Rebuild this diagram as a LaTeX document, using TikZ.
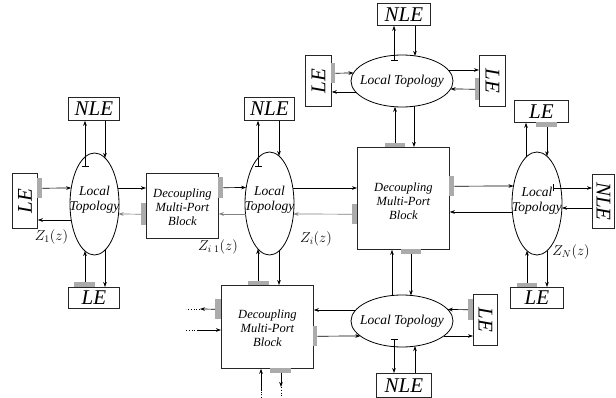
\documentclass[tikz,border=0pt]{standalone}
\usepackage{fontspec}
\setmainfont{Liberation Serif}
\usetikzlibrary{shapes.geometric,arrows.meta}
\tikzset{
  box/.style={draw=black!85, line width=0.8pt, inner sep=0pt, anchor=north west},
  tab/.style={fill=black!33, draw=none, inner sep=0pt, anchor=north west},
  ell/.style={ellipse, draw=black, line width=0.8pt, inner sep=0pt},
  arr/.style={-{Stealth[length=5pt,width=3.6pt]}, line width=0.7pt},
  garr/.style={arr, draw=black!50},
  tarr/.style={{Bar[width=7pt]}-{Stealth[length=5pt,width=3.6pt]}, line width=0.7pt},
  dots/.style={line width=0.7pt, dash pattern=on 0.8pt off 2pt},
  big/.style={font=\fontsize{21}{21}\selectfont\itshape, inner sep=0pt},
  sm/.style={font=\fontsize{12.5}{14}\selectfont\itshape, align=center, inner sep=0pt},
  lt/.style={font=\fontsize{13.5}{15}\selectfont\itshape, align=center, inner sep=0pt},
  zl/.style={font=\fontsize{14}{14}\selectfont, inner sep=0pt}
}
\begin{document}
\begin{tikzpicture}[x=1pt,y=-1pt]
\useasboundingbox[fill=white] (0,0) rectangle (616,398);

% ellipses
\node[ell, minimum width=49pt, minimum height=102pt] (E1) at (94.5,204) {};
\node[ell, minimum width=49pt, minimum height=103pt] (E2) at (269.5,203.5) {};
\node[ell, minimum width=50pt, minimum height=103pt] (E3) at (537,203.5) {};
\node[ell, minimum width=102pt, minimum height=52pt] (ET) at (402,81) {};
\node[ell, minimum width=102pt, minimum height=52pt] (EB) at (402,321) {};
\node[lt] (E1t) at (94.5,200) {Local\\Topology};
\node[lt] (E2t) at (269.5,200) {Local\\Topology};
\node[lt] (E3t) at (537,201) {Local\\Topology};
\node[lt] (ETt) at (402,81) {Local Topology};
\node[lt] (EBt) at (402,321) {Local Topology};

% boxes
\node[box, minimum width=25pt, minimum height=55pt] (LEL) at (12,173) {};
\node[box, minimum width=51pt, minimum height=23pt] (NLE1) at (68,97) {};
\node[box, minimum width=51pt, minimum height=21pt] (LEB1) at (68,287) {};
\node[box, minimum width=72pt, minimum height=65pt] (D1) at (146,173) {};
\node[box, minimum width=50pt, minimum height=23pt] (NLE2) at (244,97) {};
\node[box, minimum width=92pt, minimum height=102pt] (DBIG) at (357,147) {};
\node[box, minimum width=92pt, minimum height=83pt] (DB) at (221,285) {};
\node[box, minimum width=53pt, minimum height=22pt] (NLET) at (377,3) {};
\node[box, minimum width=26pt, minimum height=51pt] (LETL) at (305,55) {};
\node[box, minimum width=26pt, minimum height=51pt] (LETR) at (479,55) {};
\node[box, minimum width=24pt, minimum height=51pt] (LEBR) at (473,294) {};
\node[box, minimum width=55pt, minimum height=24pt] (NLEB) at (376,373) {};
\node[box, minimum width=54pt, minimum height=22pt] (LERT) at (514,100) {};
\node[box, minimum width=22pt, minimum height=54pt] (NLER) at (592,174) {};
\node[box, minimum width=53pt, minimum height=21pt] (LERB) at (510,287) {};

% box texts
\node[big, rotate=90] (LELt) at (LEL) {LE};
\node[big] (NLE1t) at (NLE1) {NLE};
\node[big] (LEB1t) at (LEB1) {LE};
\node[sm] (D1t) at ([yshift=-1pt]D1.center) {Decoupling\\Multi-Port\\Block};
\node[big] (NLE2t) at (NLE2) {NLE};
\node[sm] (DBIGt) at ([yshift=-3pt]DBIG.center) {Decoupling\\Multi-Port\\Block};
\node[sm] (DBt) at ([yshift=-1.5pt]DB.center) {Decoupling\\Multi-Port\\Block};
\node[big] (NLETt) at (NLET) {NLE};
\node[big, rotate=90] (LETLt) at (LETL) {LE};
\node[big, rotate=-90] (LETRt) at (LETR) {LE};
\node[big, rotate=-90] (LEBRt) at (LEBR) {LE};
\node[big] (NLEBt) at (NLEB) {NLE};
\node[big] (LERTt) at (LERT) {LE};
\node[big, rotate=-90] (NLERt) at (NLER) {NLE};
\node[big] (LERBt) at (LERB) {LE};

% tabs
\node[tab, minimum width=5pt, minimum height=20pt] (tLEL) at (37,178) {};
\node[tab, minimum width=21pt, minimum height=5pt] (tLEB1) at (74,282) {};
\node[tab, minimum width=5pt, minimum height=21pt] (tD1r) at (218,177) {};
\node[tab, minimum width=5pt, minimum height=22pt] (tD1l) at (141,203) {};
\node[tab, minimum width=20pt, minimum height=4pt] (tDBt) at (385,143) {};
\node[tab, minimum width=5pt, minimum height=20pt] (tDBl) at (352,204) {};
\node[tab, minimum width=5pt, minimum height=20pt] (tDBr) at (449,176) {};
\node[tab, minimum width=20pt, minimum height=5pt] (tDBb) at (401,249) {};
\node[tab, minimum width=4pt, minimum height=20pt] (tLETL) at (331,63) {};
\node[tab, minimum width=4pt, minimum height=22pt] (tLETR) at (475,78) {};
\node[tab, minimum width=21pt, minimum height=4pt] (tDt) at (248,281) {};
\node[tab, minimum width=6pt, minimum height=20pt] (tDl) at (215,299) {};
\node[tab, minimum width=4pt, minimum height=20pt] (tDr) at (313,326) {};
\node[tab, minimum width=21pt, minimum height=5pt] (tDb) at (270,368) {};
\node[tab, minimum width=5pt, minimum height=21pt] (tLEBR) at (468,299) {};
\node[tab, minimum width=21pt, minimum height=5pt] (tLERT) at (536,122) {};
\node[tab, minimum width=20pt, minimum height=4pt] (tLERB) at (517,283) {};

% E1 connectors
\draw[arr] (tLEL.east) -- (71.2,188);
\draw[arr] (71.2,220) -- (LEL.east |- 0,220);
\draw[tarr] (85,167) -- (NLE1.south -| 85,0);
\draw[arr] (NLE1.south -| 105,0) -- (105,158);
\draw[arr] (tLEB1.north -| 85,0) -- (85,251);
\draw[arr] (105,250) -- (LEB1.north -| 105,0);
\draw[arr] (117.8,188) -- (D1.west |- 0,188);
\draw[garr] (tD1l.west) -- (118.5,214);

% E2 connectors
\draw[arr] (tD1r.east) -- (246.1,187.5);
\draw[garr] (245.5,214) -- (D1.east |- 0,214);
\draw[tarr] (258,167) -- (NLE2.south -| 258,0);
\draw[arr] (NLE2.south -| 279,0) -- (279,156);
\draw[arr] (292.9,188) -- (DBIG.west |- 0,188);
\draw[garr] (tDBl.west) -- (293.5,214);
\draw[arr] (tDt.north -| 258,0) -- (258,249);
\draw[arr] (279,251) -- (DB.north -| 279,0);

% ET connectors
\draw[tarr] (394,61) -- (NLET.south -| 394,0);
\draw[arr] (NLET.south -| 415,0) -- (415,55.9);
\draw[arr] (tLETL.east) -- (353.5,73);
\draw[arr] (355.8,92) -- (LETL.east |- 0,92);
\draw[arr] (448.2,70) -- (LETR.west |- 0,70);
\draw[arr] (tLETR.west) -- (450.5,89);
\draw[arr] (tDBt.north -| 395,0) -- (395,106.8);
\draw[arr] (414,106.3) -- (DBIG.north -| 414,0);

% E3 connectors
\draw[arr] (tDBr.east) -- (513.5,186);
\draw[arr] (512.3,212) -- (DBIG.east |- 0,212);
\draw[arr] (526,157.3) -- (LERT.south -| 526,0);
\draw[arr] (tLERT.south -| 547,0) -- (547,156.3);
\draw[tarr] (553,188) -- (NLER.west |- 0,188);
\draw[arr] (NLER.west |- 0,208) -- (561.9,208);
\draw[arr] (tLERB.north -| 527,0) -- (527,250.7);
\draw[arr] (547,250.7) -- (LERB.north -| 547,0);

% EB connectors
\draw[arr] (392,295.5) -- (DBIG.south -| 392,0);
\draw[arr] (tDBb.south -| 411,0) -- (411,295.4);
\draw[arr] (355.8,310) -- (DB.east |- 0,310);
\draw[arr] (tDr.east) -- (360.3,336);
\draw[arr] (tLEBR.west) -- (447.7,309.5);
\draw[arr] (443.7,336) -- (LEBR.west |- 0,336);
\draw[tarr] (394,339) -- (NLEB.north -| 394,0);
\draw[arr] (NLEB.north -| 415,0) -- (415,346.1);

% DB open ends
\coordinate (p1) at (200,309);
\coordinate (p1e) at (186,309);
\draw[arr] (tDl.west) -- (p1);
\draw[dots] (p1) -- (p1e);
\coordinate (p2) at (197,330);
\coordinate (p2e) at (186,330);
\draw[dots] (p2e) -- (p2);
\draw[arr] (p2) -- (DB.west |- 0,330);
\coordinate (p3) at (261,391);
\coordinate (p3e) at (261,398);
\draw[dots] (p3e) -- (p3);
\draw[arr] (p3) -- (DB.south -| 261,0);
\coordinate (p4) at (281,387);
\coordinate (p4e) at (281,398);
\draw[arr] (tDb.south -| 281,0) -- (p4);
\draw[dots] (p4) -- (p4e);

% impedance labels
\node[zl] (Z1) at (51.5,237) {$Z_1(z)$};
\node[zl] (Zim) at (218,247) {$Z_{i\;1}(z)$};
\node[zl] (Zi) at (316,239) {$Z_i(z)$};
\node[zl] (ZN) at (571,252) {$Z_N(z)$};
\end{tikzpicture}
\end{document}
